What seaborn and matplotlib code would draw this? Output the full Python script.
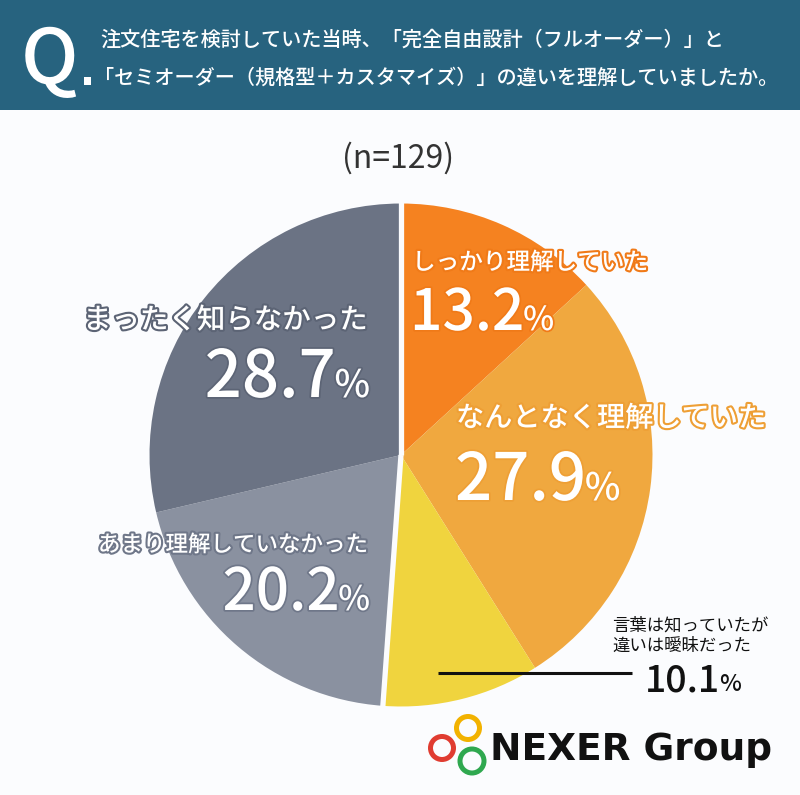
import matplotlib
matplotlib.use("Agg")
import numpy as np
import matplotlib.pyplot as plt
import matplotlib.patheffects as pe
from matplotlib.patches import Rectangle, Circle
import seaborn as sns

# --- data ---
answers = ["しっかり理解していた", "なんとなく理解していた", "言葉は知っていたが\n違いは曖昧だった",
           "あまり理解していなかった", "まったく知らなかった"]
shares = [13.2, 27.9, 10.1, 20.2, 28.7]
slice_colors = ["#F58220", "#F0A83F", "#F0D43E", "#8A91A0", "#6B7384"]
outline_colors = ["#F07A18", "#EE9F35", "#E8C930", "#6F7789", "#5C6475"]
question = ["注文住宅を検討していた当時、「完全自由設計（フルオーダー）」と",
            "「セミオーダー（規格型＋カスタマイズ）」の違いを理解していましたか。"]
sample_note = "(n=129)"

sns.set_theme(style="white")
plt.rcParams["font.family"] = ["Noto Sans CJK JP", "DejaVu Sans"]

W, H = 800, 795
fig = plt.figure(figsize=(W / 100, H / 100), dpi=100)
fig.patch.set_facecolor("#FBFCFE")

# background layer (pixel coordinates, origin top-left)
bg = fig.add_axes([0, 0, 1, 1], zorder=0)
bg.set_xlim(0, W)
bg.set_ylim(H, 0)
bg.axis("off")
bg.add_patch(Rectangle((0, 0), W, 110, color="#27637F", lw=0))
bg.text(21, 83, "Q", color="white", fontsize=55, fontweight="medium", va="baseline")
bg.add_patch(Rectangle((84, 77), 7, 8, color="white", lw=0))
bg.text(100, 40, question[0], color="white", fontsize=14.5, va="center", fontweight="medium")
bg.text(94, 78, question[1], color="white", fontsize=14.5, va="center", fontweight="medium")
bg.text(398, 158, sample_note, color="#333333", fontsize=23, ha="center", va="center")

# pie
cx, cy, r = 401, 455, 254
pie_ax = fig.add_axes([(cx - r) / W, (H - cy - r) / H, 2 * r / W, 2 * r / H], zorder=1)
pie_ax.pie(shares, colors=sns.color_palette(slice_colors), startangle=90, counterclock=False,
           wedgeprops=dict(edgecolor="none", linewidth=0), radius=1.0)
# white gaps only where the orange group meets the grey group
frac = np.cumsum(shares) / np.sum(shares)
for f in (0.0, frac[2]):
    ang = np.deg2rad(90 - 360 * f)
    pie_ax.plot([0, np.cos(ang) * 1.02], [0, np.sin(ang) * 1.02], color="#FBFCFE", lw=3.8,
                solid_capstyle="butt")
pie_ax.set_xlim(-1.01, 1.01)
pie_ax.set_ylim(-1.01, 1.01)
pie_ax.axis("off")

# overlay for labels
ov = fig.add_axes([0, 0, 1, 1], zorder=2)
ov.set_xlim(0, W)
ov.set_ylim(H, 0)
ov.axis("off")
ov.patch.set_alpha(0)


def label(i, x, y, size, ha):
    t = ov.text(x, y, answers[i], color="white", fontsize=size, ha=ha, va="center",
                fontweight="medium")
    t.set_path_effects([pe.withStroke(linewidth=3, foreground=outline_colors[i])])


def pct(i, x, y, size, ha, color="white", stroke=True, ratio=0.58):
    # number and a smaller % sign after it
    num = f"{shares[i]:.1f}"
    t = ov.text(x, y, num, color=color, fontsize=size, ha="left", va="baseline", fontweight="medium")
    p = ov.annotate("%", xy=(1, y), xycoords=(t, ov.transData), xytext=(-1, 0),
                    textcoords="offset points", color=color, fontsize=size * ratio,
                    va="baseline", ha="left", fontweight="medium")
    if stroke:
        for a in (t, p):
            a.set_path_effects([pe.withStroke(linewidth=2.5, foreground=outline_colors[i])])
    if ha == "right":
        fig.canvas.draw()
        rend = fig.canvas.get_renderer()
        right = p.get_window_extent(rend).x1
        t.set_x(x - (right - x))


label(0, 412, 263, 17, "left")
pct(0, 410, 330, 41, "left")
label(1, 456, 418, 20.3, "left")
pct(1, 455, 500, 47, "left")
label(4, 368, 320, 20.5, "right")
pct(4, 370, 397, 47, "right")
label(3, 368, 545, 16.2, "right")
pct(3, 370, 610, 42, "right")

ov.text(612, 655, answers[2], color="#111111", fontsize=12.5, ha="left", va="bottom",
        linespacing=1.2)
pct(2, 645, 691, 27, "left", color="#111111", stroke=False, ratio=0.62)
ov.plot([438, 632], [673, 673], color="#111111", lw=2.2, solid_capstyle="butt")

# logo
for (x, y, rr, c) in [(468, 728, 11.5, "#F2B200"), (442, 748, 11.5, "#E03C31"), (472, 761, 12, "#2FA84F")]:
    ov.add_patch(Circle((x, y), rr, fill=False, lw=3.6, edgecolor=c))
ov.text(490, 760, "NEXER Group", color="#111111", fontsize=27, fontweight="bold",
        va="baseline", ha="left", family=["DejaVu Sans"])

fig.savefig("out.png", dpi=100)
